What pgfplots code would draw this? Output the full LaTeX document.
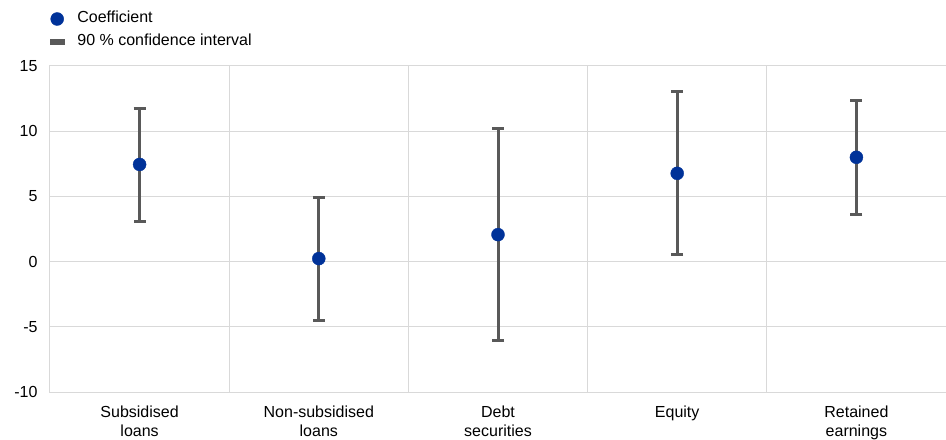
\documentclass[border=0pt]{standalone}
\usepackage{pgfplots}
\pgfplotsset{compat=1.18}
\usepackage{pgfplotstable}
\usepackage{fontspec}
\setmainfont{Liberation Sans}
\definecolor{ecbblue}{HTML}{003299}
\definecolor{cigray}{HTML}{595959}
\definecolor{gridgray}{HTML}{D9D9D9}
\pgfplotstableread{
x y ep em
0 7.45 4.31 4.39
1 0.23 4.72 4.77
2 2.07 8.11 8.09
3 6.77 6.25 6.25
4 8.00 4.39 4.35
}\coef
\begin{document}
\begin{tikzpicture}
\begin{axis}[
  name=ax,
  scale only axis, width=896bp, height=326bp,
  xmin=-0.5, xmax=4.5, ymin=-10, ymax=15,
  xtick={0,1,2,3,4},
  xticklabels={Subsidised\\loans, Non-subsidised\\loans, Debt\\securities, Equity, Retained\\earnings},
  minor xtick={0.5,1.5,2.5,3.5},
  ytick={-10,-5,0,5,10,15},
  xminorgrids, ymajorgrids,
  grid style={draw=gridgray, line width=1bp},
  minor grid style={draw=gridgray, line width=1bp},
  axis line style={draw=gridgray, line width=1bp},
  major tick length=0pt, minor tick length=0pt,
  tick label style={font=\fontsize{16bp}{19.5bp}\selectfont, text=black},
  xticklabel style={align=center, anchor=north, yshift=-10bp},
  yticklabel style={xshift=-9bp},
  /pgf/number format/assume math mode=true,
  legend style={at={(0,1)}, anchor=south west, yshift=17bp, draw=none, fill=none,
    inner sep=0pt, outer sep=0pt,
    nodes={inner sep=0pt, text height=11bp, text depth=3bp},
    font=\fontsize{16bp}{19bp}\selectfont,
    row sep=9bp,
    /tikz/every odd column/.append style={column sep=13bp}},
  legend cell align=left,
]
\addlegendimage{legend image code/.code={\fill[ecbblue] (7bp,0bp) circle (6.5bp);}}
\addlegendentry{Coefficient}
\addlegendimage{legend image code/.code={\fill[cigray] (0bp,-2.5bp) rectangle (14bp,2.5bp);}}
\addlegendentry{90 \% confidence interval}
\addplot[only marks, mark=*, mark size=6.5bp, mark options={fill=ecbblue, draw=ecbblue},
  error bars/.cd, y dir=both, y explicit,
  error bar style={line width=3bp, draw=cigray},
  error mark options={rotate=90, line width=3bp, mark size=6bp, draw=cigray}]
  table[x=x, y=y, y error plus=ep, y error minus=em] {\coef};
\end{axis}
\pgfresetboundingbox
\path[use as bounding box] ([shift={(-50bp,-47bp)}]ax.south west) rectangle ([shift={(0bp,66bp)}]ax.north east);
\end{tikzpicture}
\end{document}
